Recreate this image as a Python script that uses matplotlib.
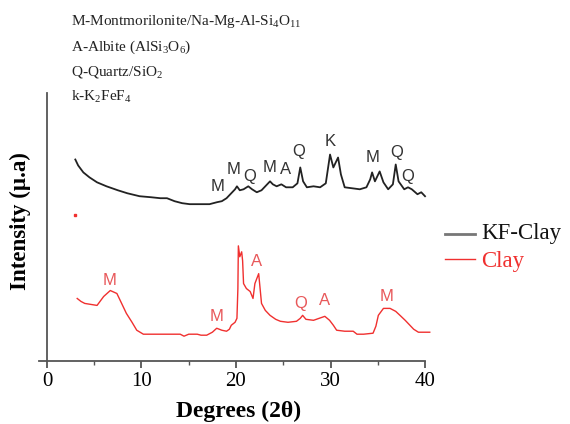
"""XRD patterns of KF-Clay and raw Clay, with phase labels."""

import matplotlib
matplotlib.use("Agg")
import matplotlib.pyplot as plt
from matplotlib.ticker import MultipleLocator

plt.rcParams["mathtext.fontset"] = "custom"
plt.rcParams["mathtext.rm"] = "Liberation Serif"
plt.rcParams["mathtext.it"] = "Liberation Serif:italic"

SERIF = ["Liberation Serif", "DejaVu Serif"]
SANS = ["Liberation Sans", "DejaVu Sans"]
KF_COLOR = "#222222"
CLAY_COLOR = "#f0302f"
LABEL_RED = "#e8585a"

# ---------------------------------------------------------------------------
# data (arbitrary intensity units)
# ---------------------------------------------------------------------------
kf_deg = [3.0, 3.3, 3.85, 4.5, 5.3, 6.3, 7.5, 8.5, 9.8, 11.0, 12.0, 12.7,
          13.5, 14.3, 15.1, 16.0, 17.2, 18.0, 18.5, 19.0, 19.3, 19.6, 19.9,
          20.1, 20.4, 20.8, 21.3, 21.7, 22.2, 22.7, 23.2, 23.6, 23.9, 24.3,
          24.8, 25.3, 26.0, 26.5, 26.8, 27.1, 27.5, 28.2, 28.9, 29.5, 29.95,
          30.3, 30.8, 31.1, 31.5, 32.3, 33.1, 33.8, 34.2, 34.4, 34.7, 35.2,
          35.6, 36.1, 36.6, 36.9, 37.2, 37.8, 38.2, 38.6, 39.2, 39.6, 40.0]
kf_int = [201, 195, 188, 183, 178, 174, 170, 167, 164, 163, 162, 162,
          159, 157, 156, 156, 156, 158, 159, 162, 165, 168, 171,
          174, 170, 171, 174, 171, 168, 170, 175, 179, 176, 174,
          176, 173, 173, 177, 193, 179, 173, 174, 173, 177, 206,
          193, 203, 186, 173, 172, 171, 173, 181, 188, 179, 189,
          178, 171, 176, 196, 179, 171, 173, 171, 166, 168, 164]

clay_deg = [3.2, 3.6, 4.0, 5.3, 6.0, 6.7, 7.4, 7.9, 8.4, 9.0, 9.5, 10.2,
            12.0, 14.1, 14.5, 15.0, 15.9, 16.3, 16.9, 17.5, 17.96, 18.5,
            19.0, 19.3, 19.5, 19.9, 20.1, 20.2, 20.25, 20.4, 20.6, 20.7,
            20.8, 21.1, 21.5, 21.8, 22.0, 22.4, 22.55, 22.7, 23.1, 23.6,
            24.2, 24.7, 25.5, 26.4, 26.8, 27.05, 27.4, 28.2, 28.8, 29.4,
            29.9, 30.3, 30.65, 31.5, 32.4, 32.8, 33.5, 34.5, 34.8, 35.06,
            35.6, 36.3, 36.9, 37.35, 37.9, 38.4, 38.8, 39.3, 40.5]
clay_int = [61, 58, 56, 54, 63, 69, 66, 56, 46, 37, 29, 25,
            25, 25, 23, 25, 25, 24, 24, 27, 31, 29,
            28, 30, 34, 37, 41, 71, 114, 103, 108, 99,
            76, 71, 68, 61, 76, 86, 71, 56, 49, 44,
            40, 38, 37, 38, 41, 44, 40, 39, 41, 43,
            39, 34, 29, 28, 28, 25, 25, 26, 33, 44,
            51, 51, 48, 44, 39, 34, 30, 27, 27]

# phase labels: (letter, 2theta, height)
kf_labels = [("M", 18.1, 174), ("M", 19.7, 191), ("Q", 21.5, 184),
             ("M", 23.5, 193), ("A", 25.2, 191), ("Q", 26.6, 209),
             ("K", 29.95, 219), ("M", 34.5, 203), ("Q", 37.0, 208),
             ("Q", 38.2, 184)]
clay_labels = [("M", 6.67, 79), ("M", 17.96, 43), ("A", 22.2, 98),
               ("Q", 26.8, 56), ("A", 29.4, 59), ("M", 35.95, 63)]

header_lines = [r"M-Montmorilonite/Na-Mg-Al-Si$_{4}$O$_{11}$",
                r"A-Albite (AlSi$_{3}$O$_{6}$)",
                r"Q-Quartz/SiO$_{2}$",
                r"k-K$_{2}$FeF$_{4}$"]

# ---------------------------------------------------------------------------
# figure
# ---------------------------------------------------------------------------
W, H = 570, 424
fig = plt.figure(figsize=(W / 100, H / 100), dpi=100)
ax = fig.add_axes([39.4 / W, 63 / H, 391.3 / W, 268 / H])

ax.plot(kf_deg, kf_int, color=KF_COLOR, lw=1.3)
ax.plot(clay_deg, clay_int, color=CLAY_COLOR, lw=1.0)
ax.plot([3.0], [145], marker="s", ms=1.5, color=CLAY_COLOR, lw=0)

for lab, x, y in kf_labels:
    ax.text(x, y, lab, color="#333333", fontsize=12, family=SANS,
            ha="center", va="center")
for lab, x, y in clay_labels:
    ax.text(x, y, lab, color=LABEL_RED, fontsize=12, family=SANS,
            ha="center", va="center")

ax.set_xlim(-0.8, 40.6)
ax.set_ylim(-2, 268)
for side in ("top", "right"):
    ax.spines[side].set_visible(False)
ax.spines["left"].set_position(("data", 0))
ax.spines["bottom"].set_bounds(-0.8, 40)
for side in ("left", "bottom"):
    ax.spines[side].set_color("#555555")
    ax.spines[side].set_linewidth(1.3)
ax.set_yticks([])
ax.xaxis.set_major_locator(MultipleLocator(10))
ax.xaxis.set_minor_locator(MultipleLocator(5))
ax.tick_params(axis="x", which="major", length=5, width=1.3,
               color="#555555", pad=3)
ax.tick_params(axis="x", which="minor", length=3, width=1.0,
               color="#555555")
for t in ax.get_xticklabels():
    t.set_family(SERIF)
    t.set_fontsize(15)

fig.text(239 / W, 1 - 411 / H, "Degrees (2θ)", family=SERIF, fontsize=17,
         fontweight="bold", ha="center", va="center")
fig.text(20 / W, 1 - 221 / H, "Intensity (µ.a)", family=SERIF,
         fontsize=16.5, fontweight="bold", rotation=90,
         ha="center", va="center")

for i, line in enumerate(header_lines):
    fig.text(71 / W, 1 - (22 + 25 * i) / H, line, family=SERIF,
             fontsize=11, color="#222222", ha="left", va="center")

# legend drawn by hand to the right of the axes
fig.add_artist(plt.Line2D([445 / W, 475 / W], [1 - 234 / H] * 2,
                          color="#777777", lw=2.0))
fig.text(481 / W, 1 - 233 / H, "KF-Clay", family=SERIF, fontsize=16.5,
         color="#111111", va="center")
fig.add_artist(plt.Line2D([445 / W, 475 / W], [1 - 259 / H] * 2,
                          color=CLAY_COLOR, lw=1.0))
fig.text(481 / W, 1 - 262 / H, "Clay", family=SERIF, fontsize=16.5,
         color=CLAY_COLOR, va="center")

fig.savefig("out.png", dpi=100)
